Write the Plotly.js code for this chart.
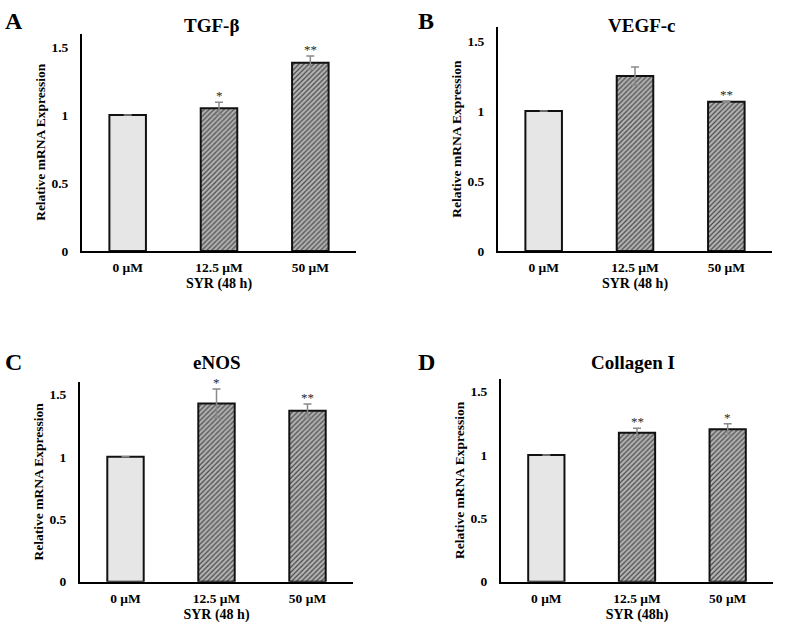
<!DOCTYPE html>
<html>
<head>
<meta charset="utf-8">
<script src="https://cdn.plot.ly/plotly-3.0.1.min.js"></script>
<style>html,body{margin:0;padding:0;background:#fff;}#chart{width:787px;height:632px;}</style>
</head>
<body>
<div id="chart"></div>
<script>
// ---- data ----
const categories = ['0 μM', '12.5 μM', '50 μM'];
const panelLetters = ['A', 'B', 'C', 'D'];
const panelTitles = ['TGF-β', 'VEGF-c', 'eNOS', 'Collagen I'];
const xTitles = ['SYR (48 h)', 'SYR (48 h)', 'SYR (48 h)', 'SYR (48h)'];
const yTitle = 'Relative mRNA Expression';
const yTickVals = [0, 0.5, 1, 1.5];
const yTickText = ['0', '0.5', '1', '1.5'];

const tgfVals = [1, 1.05, 1.385];
const tgfErr = [0, 0.045, 0.05];
const tgfSig = ['', '*', '**'];

const vegfVals = [1, 1.25, 1.066];
const vegfErr = [0, 0.065, 0.005];
const vegfSig = ['', '', '**'];

const enosVals = [1, 1.428, 1.369];
const enosErr = [0, 0.115, 0.054];
const enosSig = ['', '*', '**'];

const colVals = [1, 1.176, 1.203];
const colErr = [0, 0.035, 0.044];
const colSig = ['', '**', '*'];

// ---- layout geometry ----
const W = 787, H = 632;
const px = v => v / W;
const py = v => 1 - v / H;
const xDomains = [[px(82), px(356)], [px(498), px(772)], [px(80), px(353)], [px(501), px(773)]];
const yDomains = [[py(251), py(33.5)], [py(251), py(27)], [py(581.7), py(381.9)], [py(581.7), py(379)]];
const titlePos = [[px(211.5), py(25.5)], [px(641.5), py(25.5)], [px(216.5), py(362.5)], [px(632.5), py(362.5)]];
const letterPos = [[px(14), py(21.5)], [px(425.5), py(21.5)], [px(13), py(362.5)], [px(426), py(362.5)]];

const serif = 'Liberation Serif, Times New Roman, serif';
const panels = [
  [tgfVals, tgfErr, tgfSig],
  [vegfVals, vegfErr, vegfSig],
  [enosVals, enosErr, enosSig],
  [colVals, colErr, colSig]
];

const traces = [];
const annotations = [];
const layout = {
  width: W, height: H,
  margin: {l: 0, r: 0, t: 0, b: 0},
  paper_bgcolor: '#fff', plot_bgcolor: '#fff',
  showlegend: false,
  bargap: 0.6,
  font: {family: serif, color: '#000'}
};

panels.forEach((p, i) => {
  const n = i === 0 ? '' : String(i + 1);
  const [vals, errs, sig] = p;
  traces.push({
    type: 'bar',
    x: categories,
    y: vals,
    xaxis: 'x' + n,
    yaxis: 'y' + n,
    marker: {
      color: ['#e6e6e6', '#b6b6b6', '#b6b6b6'],
      line: {color: '#111', width: 2},
      pattern: {
        shape: ['', '/', '/'],
        fgcolor: '#777777',
        fgopacity: 1,
        size: 3.5, solidity: 0.35, fillmode: 'overlay'
      }
    },
    error_y: {type: 'data', array: errs, visible: true, color: '#8a8a8a', thickness: 1.5, width: 4},
    hoverinfo: 'none'
  });
  layout['xaxis' + n] = {
    domain: xDomains[i],
    anchor: 'y' + n,
    range: [-0.5, 2.5],
    showline: true, linecolor: '#000', linewidth: 2,
    showgrid: false, zeroline: false, ticks: '',
    ticklabelstandoff: 3,
    tickfont: {family: serif, size: 13.5, color: '#000', weight: 'bold'},
    title: {text: xTitles[i], font: {family: serif, size: 14, color: '#000', weight: 'bold'}, standoff: 4},
    fixedrange: true
  };
  layout['yaxis' + n] = {
    domain: yDomains[i],
    anchor: 'x' + n,
    range: [0, 1.6],
    showline: true, linecolor: '#000', linewidth: 2,
    showgrid: false, zeroline: false, ticks: '',
    tickvals: yTickVals, ticktext: yTickText,
    ticklabelstandoff: 9,
    tickfont: {family: serif, size: 13.5, color: '#000', weight: 'bold'},
    title: {text: yTitle, font: {family: serif, size: 13.5, color: '#000', weight: 'bold'}, standoff: 3},
    fixedrange: true
  };
  // significance markers
  categories.forEach((c, j) => {
    if (sig[j]) {
      annotations.push({
        xref: 'x' + n, yref: 'y' + n,
        x: c, y: vals[j] + errs[j],
        text: sig[j], showarrow: false,
        xanchor: 'center', yanchor: 'bottom', yshift: -2,
        borderpad: 0,
        font: {family: serif, size: 13, color: '#2a2a2a'}
      });
    }
  });
  annotations.push({
    xref: 'paper', yref: 'paper',
    x: titlePos[i][0], y: titlePos[i][1],
    text: panelTitles[i], showarrow: false,
    xanchor: 'center', yanchor: 'middle',
    borderpad: 0,
    font: {family: serif, size: 19, color: '#000', weight: 'bold'}
  });
  annotations.push({
    xref: 'paper', yref: 'paper',
    x: letterPos[i][0], y: letterPos[i][1],
    text: panelLetters[i], showarrow: false,
    xanchor: 'center', yanchor: 'middle',
    font: {family: serif, size: 24, color: '#000', weight: 'bold'}
  });
});
layout.annotations = annotations;

Plotly.newPlot('chart', traces, layout, {staticPlot: true, displayModeBar: false});
</script>
</body>
</html>
